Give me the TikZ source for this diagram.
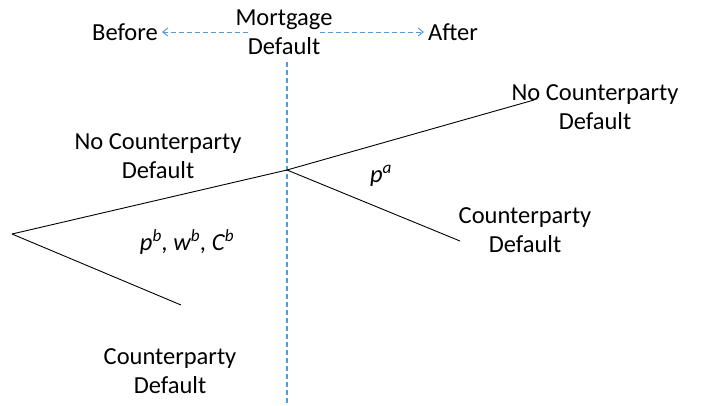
\documentclass[tikz,border=0pt]{standalone}
\usepackage{fontspec}
\setmainfont{Carlito}
\usetikzlibrary{positioning,arrows.meta}

\definecolor{guideblue}{RGB}{91,155,213}
\tikzset{
    lbl/.style={align=center, inner sep=0pt, font=\fontsize{24.5}{28.5}\selectfont},
    branch/.style={draw=black, line width=0.9pt},
    guide/.style={draw=guideblue, line width=1pt, dash pattern=on 5pt off 3pt},
    guidearrow/.style={guide, -{Straight Barb[length=5pt,width=8pt]}, shorten >=4pt}
}

\begin{document}
\begin{tikzpicture}[x=1pt,y=-1pt]
    \useasboundingbox (0,0) rectangle (701,405);

    % tree points
    \coordinate (root) at (12,234);
    \coordinate (fork) at (287,170);
    \coordinate (nocpA) at (534,100);
    \coordinate (cpA) at (460,241);
    \coordinate (cpB) at (181,305);

    % time axis
    \node[lbl] (md) at (284,32) {Mortgage\\Default};
    \node[lbl] (before) at (125,32) {Before};
    \node[lbl] (after) at (453,32) {After};
    \coordinate (axtop) at (287,62);
    \coordinate (axbot) at (287,405);
    \coordinate (lstart) at (248,32);
    \coordinate (rstart) at (320,32);

    \draw[guide,line width=1.4pt] (axtop) -- (axbot); %vertical split at default
    \draw[guidearrow] (lstart) -- (before.east);
    \draw[guidearrow] (rstart) -- (after.west);

    % branches
    \draw[branch] (root) -- (fork);
    \draw[branch] (root) -- (cpB);
    \draw[branch] (fork) -- (nocpA);
    \draw[branch] (fork) -- (cpA);

    % labels
    \node[lbl] (nocpBlbl) at (158,156) {No Counterparty\\Default};
    \node[lbl] (nocpAlbl) at (595,107) {No Counterparty\\Default};
    \node[lbl] (cpAlbl) at (525,230) {Counterparty\\Default};
    \node[lbl] (cpBlbl) at (170,371) {Counterparty\\Default};
    \node[lbl] (pa) at (381,176) {\textit{p\textsuperscript{a}}};
    \node[lbl] (pb) at (187,242) {\textit{p\textsuperscript{b}, w\textsuperscript{b}, C\textsuperscript{b}}};
\end{tikzpicture}
\end{document}
